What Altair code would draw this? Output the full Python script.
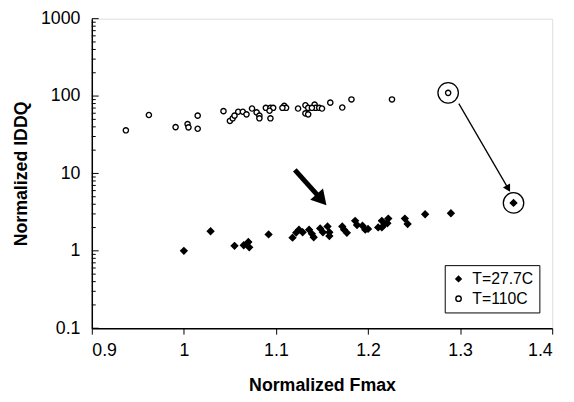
import altair as alt
import pandas as pd

# ---- data ----
series = ["T=27.7C", "T=110C"]

cold_x = [1.000, 1.029, 1.055, 1.065, 1.070, 1.071, 1.092, 1.118, 1.122, 1.125,
          1.129, 1.136, 1.139, 1.141, 1.148, 1.151, 1.156, 1.158, 1.158, 1.172,
          1.174, 1.177, 1.186, 1.188, 1.194, 1.197, 1.200, 1.211, 1.215, 1.215,
          1.218, 1.222, 1.221, 1.240, 1.243, 1.262, 1.290, 1.358]
cold_y = [1.00, 1.79, 1.16, 1.18, 1.30, 1.11, 1.63, 1.48, 1.72, 1.88,
          1.74, 1.88, 1.66, 1.50, 1.95, 1.74, 2.07, 1.74, 1.55, 2.07,
          1.88, 1.71, 2.44, 2.16, 2.11, 1.88, 1.92, 2.01, 2.44, 2.01,
          2.22, 2.61, 2.27, 2.61, 2.22, 2.97, 3.06, 4.16]

hot_x = [0.937, 0.962, 0.991, 1.004, 1.005, 1.015, 1.015, 1.043, 1.050, 1.053,
         1.055, 1.059, 1.064, 1.068, 1.074, 1.079, 1.082, 1.082, 1.089, 1.094,
         1.097, 1.093, 1.094, 1.109, 1.111, 1.107, 1.124, 1.132, 1.135, 1.132,
         1.135, 1.142, 1.143, 1.139, 1.147, 1.150, 1.159, 1.172, 1.182, 1.226,
         1.287]
hot_y = [36.1, 56.9, 39.7, 43.4, 39.4, 55.8, 37.8, 63.8, 47.7, 51.6,
         55.8, 62.7, 62.7, 58.0, 69.0, 61.5, 55.8, 51.6, 70.5, 70.5,
         70.5, 64.6, 51.6, 74.7, 70.5, 70.5, 69.0, 76.0, 70.5, 59.7,
         58.0, 77.6, 70.5, 70.5, 70.5, 69.0, 82.2, 71.1, 90.4, 90.4,
         110.0]

# circled outlier pair
circle_x = [1.287, 1.358]
circle_y = [110.0, 4.16]

# big arrow (start, head) and thin arrow (start, head)
big_arrow_x = [1.1205, 1.1495]
big_arrow_y = [11.1, 4.58]
thin_arrow_x = [1.2986, 1.3523]
thin_arrow_y = [79.8, 6.37]

x_ticks = [0.9, 1.0, 1.1, 1.2, 1.3, 1.4]
y_major = [0.1, 1, 10, 100, 1000]
y_minor = [m * d for d in [0.1, 1, 10, 100] for m in range(2, 10)]

FONT = "Liberation Sans"
XT = "Normalized Fmax"
YT = "Normalized IDDQ"

pts = pd.DataFrame({
    "x": cold_x + hot_x,
    "y": cold_y + hot_y,
    "series": [series[0]] * len(cold_x) + [series[1]] * len(hot_x),
})
circ = pd.DataFrame({"x": circle_x, "y": circle_y})
arrows = pd.DataFrame({
    "x": [big_arrow_x[0], thin_arrow_x[0]],
    "y": [big_arrow_y[0], thin_arrow_y[0]],
    "x2": [big_arrow_x[1], thin_arrow_x[1]],
    "y2": [big_arrow_y[1], thin_arrow_y[1]],
    "w": [5.0, 1.3],
})
heads = pd.DataFrame({
    "x": [big_arrow_x[1], thin_arrow_x[1]],
    "y": [big_arrow_y[1], thin_arrow_y[1]],
    "ang": [138.4, 150.1],
    "sz": [300, 70],
})
ymaj = pd.DataFrame({"y": y_major})
ymin = pd.DataFrame({"y": y_minor})

xs = alt.Scale(domain=[0.9, 1.4], nice=False, zero=False)
ys = alt.Scale(type="log", domain=[0.1, 1000], nice=False)

common = dict(labelFont=FONT, titleFont=FONT, labelFontSize=18, titleFontSize=18,
              titleFontWeight="bold", labelColor="black", titleColor="black",
              domainColor="black", tickColor="black", grid=False, domainWidth=1.5)

xaxis = alt.Axis(values=x_ticks, format="~g", tickSize=6,
                 labelPadding=8, titlePadding=17, **common)
yaxis = alt.Axis(values=y_major, format="~g", ticks=False,
                 labelPadding=12, titlePadding=10, **common)

X = alt.X("x:Q", scale=xs, axis=xaxis, title=XT)
Y = alt.Y("y:Q", scale=ys, axis=yaxis, title=YT)

leg = alt.Legend(orient="none", legendX=358, legendY=250, title=None,
                 strokeColor="black", fillColor="white", padding=6,
                 labelFontSize=16, labelFont=FONT, labelColor="black",
                 rowPadding=4, symbolStrokeWidth=1.4, symbolSize=30,
                 labelOffset=6)

points = alt.Chart(pts).mark_point(strokeWidth=1.4, opacity=1).encode(
    x=X, y=Y,
    shape=alt.Shape("series:N", scale=alt.Scale(domain=series,
                                                range=["diamond", "circle"]),
                    legend=leg, sort=series),
    fill=alt.Fill("series:N", scale=alt.Scale(domain=series,
                                              range=["black", "white"]),
                  legend=leg, sort=series),
    stroke=alt.Stroke("series:N", scale=alt.Scale(domain=series,
                                                  range=["black", "black"]),
                      legend=leg, sort=series),
    size=alt.Size("series:N", scale=alt.Scale(domain=series, range=[42, 28]),
                  legend=None),
)

circles = alt.Chart(circ).mark_point(shape="circle", size=430, filled=False,
                                     stroke="black", strokeWidth=1.3,
                                     opacity=1).encode(x=X, y=Y)

shafts = alt.Chart(arrows).mark_rule(color="black").encode(
    x=X, y=Y, x2="x2:Q", y2="y2:Q",
    strokeWidth=alt.StrokeWidth("w:Q", scale=None),
)

heads_l = alt.Chart(heads).mark_point(shape="triangle-up", filled=True,
                                      color="black", opacity=1).encode(
    x=X, y=Y,
    angle=alt.Angle("ang:Q", scale=None),
    size=alt.Size("sz:Q", scale=None),
)

maj = alt.Chart(ymaj).mark_rule(color="black", strokeWidth=1).encode(
    y=Y, x=alt.value(0), x2=alt.value(7))
mino = alt.Chart(ymin).mark_rule(color="black", strokeWidth=1).encode(
    y=Y, x=alt.value(0), x2=alt.value(4))

chart = alt.layer(maj, mino, points, circles, shafts, heads_l).resolve_scale(
    size="independent"
).properties(
    width=467, height=314,
    autosize=alt.AutoSizeParams(type="none"),
    padding={"left": 85, "top": 8, "right": 14, "bottom": 72},
).configure_view(
    stroke="black", strokeDash=[2, 2], strokeWidth=1
).configure(background="white")

chart.save("out.html", embed_options={"renderer": "svg", "actions": False})
